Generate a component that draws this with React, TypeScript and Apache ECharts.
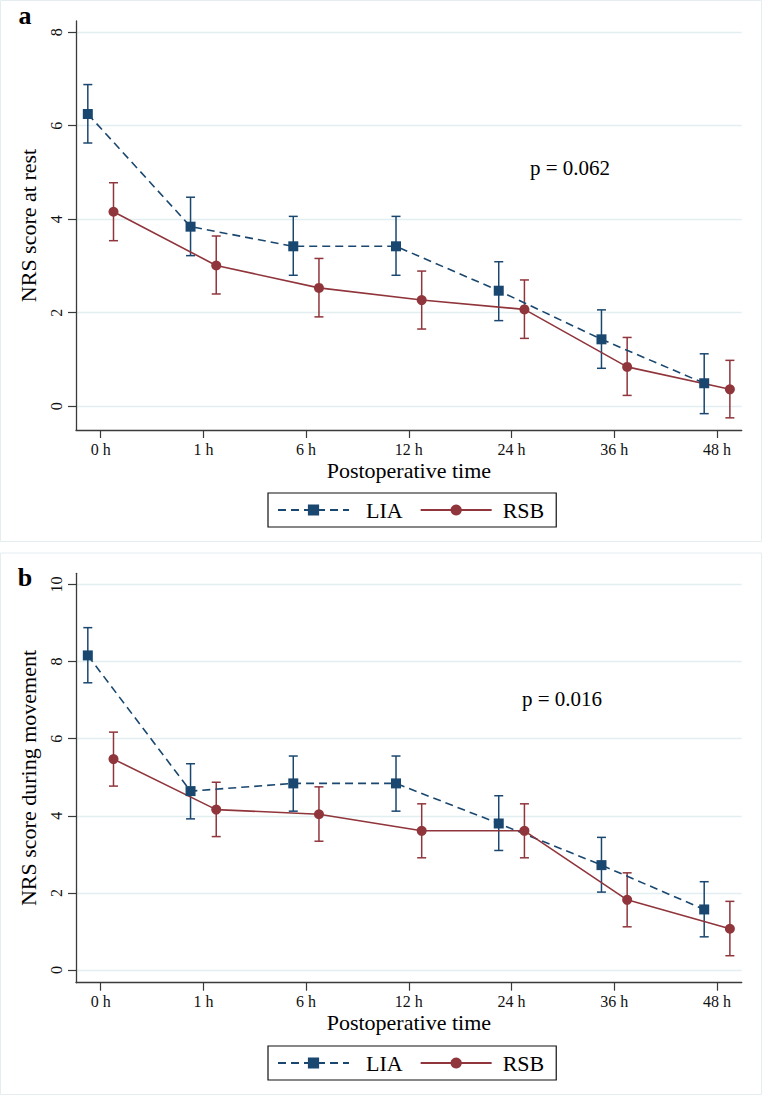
import React, { useEffect, useRef } from "react";
import * as echarts from "echarts";

const categories = ["0 h", "1 h", "6 h", "12 h", "24 h", "36 h", "48 h"];

const restLIA = [6.25, 3.84, 3.42, 3.42, 2.47, 1.43, 0.49];
const restLIALow = [5.63, 3.22, 2.8, 2.8, 1.83, 0.81, -0.16];
const restLIAHigh = [6.88, 4.47, 4.06, 4.06, 3.09, 2.06, 1.12];
const restRSB = [4.16, 3.01, 2.53, 2.27, 2.07, 0.84, 0.36];
const restRSBLow = [3.54, 2.4, 1.91, 1.65, 1.45, 0.23, -0.25];
const restRSBHigh = [4.78, 3.64, 3.16, 2.89, 2.7, 1.47, 0.98];

const moveLIA = [8.16, 4.64, 4.84, 4.84, 3.8, 2.72, 1.57];
const moveLIALow = [7.45, 3.92, 4.12, 4.12, 3.1, 2.02, 0.86];
const moveLIAHigh = [8.88, 5.35, 5.55, 5.55, 4.52, 3.44, 2.29];
const moveRSB = [5.47, 4.16, 4.04, 3.61, 3.61, 1.82, 1.07];
const moveRSBLow = [4.77, 3.46, 3.34, 2.91, 2.91, 1.12, 0.37];
const moveRSBHigh = [6.17, 4.87, 4.75, 4.31, 4.31, 2.52, 1.78];

const restTicks = [0, 2, 4, 6, 8];
const moveTicks = [0, 2, 4, 6, 8, 10];
const pRest = "p = 0.062";
const pMove = "p = 0.016";

const FONT = "Liberation Serif";
const NAVY = "#1a476f";
const MAROON = "#90353b";
const AXIS = "#3a3a3a";
const GRIDC = "#e3eef0";
const OFF = 0.125;

function pts(vals: number[], off: number) {
  return vals.map((v, i) => [i + off, v]);
}
function bars(lo: number[], hi: number[], off: number) {
  return lo.map((l, i) => [i + off, l, hi[i]]);
}

function errRender(color: string) {
  return (params: any, api: any) => {
    const x = api.value(0);
    const pLo = api.coord([x, api.value(1)]);
    const pHi = api.coord([x, api.value(2)]);
    const w = 4.5;
    const st = { stroke: color, lineWidth: 1.5 };
    return {
      type: "group",
      children: [
        { type: "line", shape: { x1: pLo[0], y1: pLo[1], x2: pHi[0], y2: pHi[1] }, style: st },
        { type: "line", shape: { x1: pLo[0] - w, y1: pLo[1], x2: pLo[0] + w, y2: pLo[1] }, style: st },
        { type: "line", shape: { x1: pHi[0] - w, y1: pHi[1], x2: pHi[0] + w, y2: pHi[1] }, style: st },
      ],
    };
  };
}

function xAxisCfg(gridIndex: number) {
  return {
    type: "value",
    gridIndex,
    min: -0.24,
    max: 6.24,
    name: "Postoperative time",
    nameLocation: "middle",
    nameGap: 29,
    nameTextStyle: { fontFamily: FONT, fontSize: 22, color: "#000" },
    axisLine: { show: true, onZero: false, lineStyle: { color: AXIS, width: 1.3 } },
    axisTick: { show: true, length: 8, customValues: [0, 1, 2, 3, 4, 5, 6], lineStyle: { color: AXIS, width: 1.2 } },
    axisLabel: {
      customValues: [0, 1, 2, 3, 4, 5, 6],
      formatter: (v: number) => categories[Math.round(v)] ?? "",
      fontFamily: FONT,
      fontSize: 16,
      color: "#111",
      margin: 11,
    },
    splitLine: { show: false },
  };
}

function yAxisCfg(gridIndex: number, min: number, max: number, ticks: number[], name: string) {
  return {
    type: "value",
    gridIndex,
    min,
    max,
    name,
    nameLocation: "middle",
    nameRotate: 90,
    nameGap: 37,
    nameTextStyle: { fontFamily: FONT, fontSize: 22, color: "#000" },
    axisLine: { show: true, onZero: false, lineStyle: { color: AXIS, width: 1.3 } },
    axisTick: { show: true, length: 8, customValues: ticks, lineStyle: { color: AXIS, width: 1.2 } },
    axisLabel: {
      customValues: ticks,
      rotate: 90,
      fontFamily: FONT,
      fontSize: 16,
      color: "#111",
      margin: 12,
    },
    splitLine: { show: true, lineStyle: { color: GRIDC, width: 1.3 } },
  };
}

function legendCfg(top: number) {
  return {
    show: true,
    data: ["LIA", "RSB"],
    left: 268,
    top,
    orient: "horizontal",
    padding: [6, 12, 6, 9],
    itemGap: 17,
    itemWidth: 71,
    itemHeight: 14,
    borderColor: "#111",
    borderWidth: 1.2,
    backgroundColor: "#fff",
    selectedMode: false,
    formatter: (n: string) => (n === "LIA" ? "{a|LIA}" : "{b|RSB}"),
    textStyle: {
      fontFamily: FONT,
      fontSize: 22,
      color: "#000",
      rich: {
        a: { fontFamily: FONT, fontSize: 22, color: "#000", padding: [0, 0, 0, 12] },
        b: { fontFamily: FONT, fontSize: 22, color: "#000", padding: [0, 0, 0, 6] },
      },
    },
  };
}

function panelSeries(idx: number, lia: number[], liaLo: number[], liaHi: number[], rsb: number[], rsbLo: number[], rsbHi: number[]) {
  return [
    {
      type: "custom",
      name: "LIA CI",
      xAxisIndex: idx,
      yAxisIndex: idx,
      renderItem: errRender(NAVY),
      encode: { x: 0, y: [1, 2] },
      data: bars(liaLo, liaHi, -OFF),
      z: 2,
    },
    {
      type: "custom",
      name: "RSB CI",
      xAxisIndex: idx,
      yAxisIndex: idx,
      renderItem: errRender(MAROON),
      encode: { x: 0, y: [1, 2] },
      data: bars(rsbLo, rsbHi, OFF),
      z: 2,
    },
    {
      type: "line",
      name: "LIA",
      xAxisIndex: idx,
      yAxisIndex: idx,
      data: pts(lia, -OFF),
      symbol: "rect",
      symbolSize: 10,
      showSymbol: true,
      itemStyle: { color: NAVY },
      lineStyle: { color: NAVY, width: 1.6, type: [8, 5] },
      z: 3,
    },
    {
      type: "line",
      name: "RSB",
      xAxisIndex: idx,
      yAxisIndex: idx,
      data: pts(rsb, OFF),
      symbol: "circle",
      symbolSize: 10,
      showSymbol: true,
      itemStyle: { color: MAROON },
      lineStyle: { color: MAROON, width: 1.6 },
      z: 3,
    },
  ];
}

export default function App() {
  const ref = useRef<HTMLDivElement>(null);
  useEffect(() => {
    if (!ref.current) return;
    const chart = echarts.init(ref.current, null, { renderer: "svg" });
    chart.setOption({
      animation: false,
      backgroundColor: "#fff",
      grid: [
        { left: 76, top: 21, width: 665.7, height: 409 },
        { left: 76, top: 573.3, width: 665.7, height: 409.4 },
      ],
      xAxis: [xAxisCfg(0), xAxisCfg(1)],
      yAxis: [
        yAxisCfg(0, -0.51, 8.24, restTicks, "NRS score at rest"),
        yAxisCfg(1, -0.33, 10.29, moveTicks, "NRS score during movement"),
      ],
      legend: [legendCfg(493), legendCfg(1046)],
      series: [
        ...panelSeries(0, restLIA, restLIALow, restLIAHigh, restRSB, restRSBLow, restRSBHigh),
        ...panelSeries(1, moveLIA, moveLIALow, moveLIAHigh, moveRSB, moveRSBLow, moveRSBHigh),
      ],
      graphic: [
        { type: "rect", shape: { x: 0.5, y: 0.5, width: 761, height: 541 }, style: { fill: "none", stroke: "#e6edf1", lineWidth: 1 }, z: -1 },
        { type: "rect", shape: { x: 0.5, y: 553, width: 761, height: 541.5 }, style: { fill: "none", stroke: "#e6edf1", lineWidth: 1 }, z: -1 },
        { type: "text", x: 25, y: 15, style: { text: "a", font: `bold 26px "${FONT}"`, fill: "#000", textAlign: "center", textVerticalAlign: "middle" } },
        { type: "text", x: 25, y: 577, style: { text: "b", font: `bold 26px "${FONT}"`, fill: "#000", textAlign: "center", textVerticalAlign: "middle" } },
        { type: "text", x: 570, y: 168, style: { text: pRest, font: `21px "${FONT}"`, fill: "#000", textAlign: "center", textVerticalAlign: "middle" } },
        { type: "text", x: 562, y: 699, style: { text: pMove, font: `21px "${FONT}"`, fill: "#000", textAlign: "center", textVerticalAlign: "middle" } },
      ],
    });
    return () => chart.dispose();
  }, []);
  return <div ref={ref} style={{ position: "absolute", left: 0, top: 0, width: 762, height: 1095 }} />;
}
